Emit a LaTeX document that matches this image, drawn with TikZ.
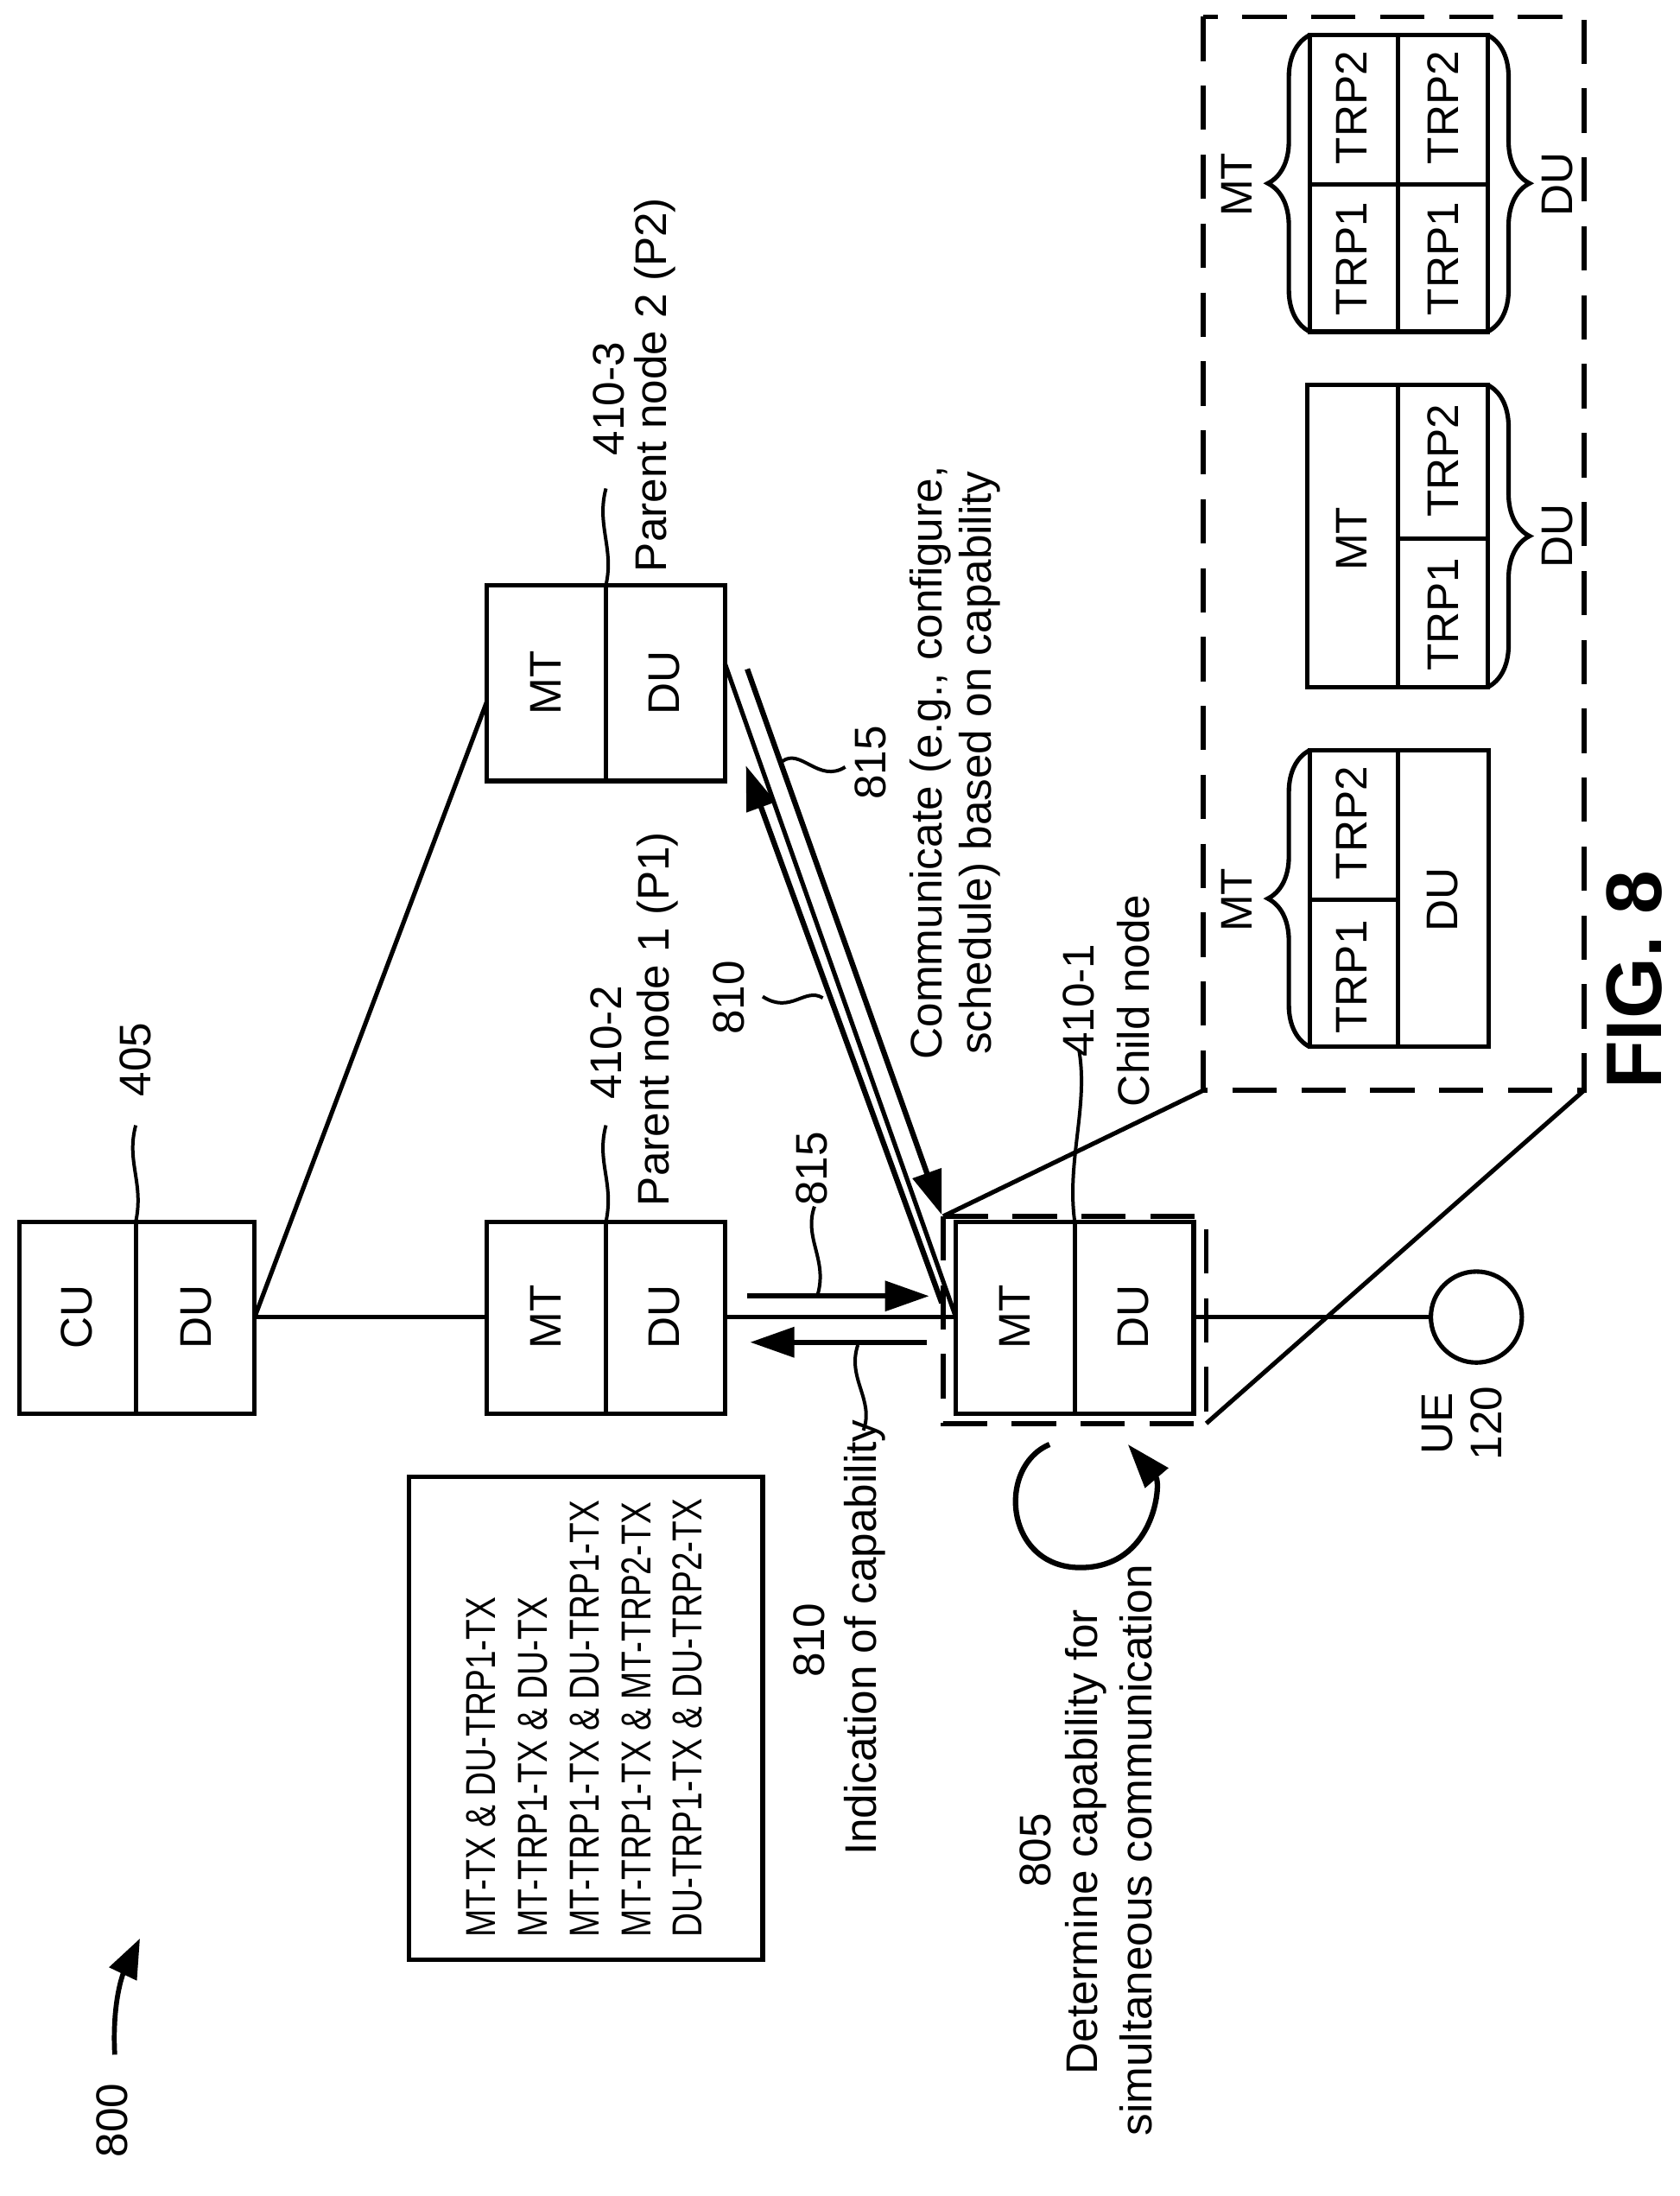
\documentclass[tikz,border=0pt]{standalone}
\usepackage{fontspec}
\setmainfont{Liberation Sans}
\usetikzlibrary{arrows.meta,decorations.pathreplacing}
\begin{document}
\begin{tikzpicture}[x=0.01cm,y=-0.01cm,
  every node/.style={font=\fontsize{9}{11}\selectfont},
  t/.style={rotate=90,inner sep=0pt},
  lst/.style={rotate=90,yscale=1.25,inner sep=0pt,anchor=west,font=\fontsize{6.8}{8}\selectfont},
  ln/.style={line width=0.9pt},
  dsh/.style={line width=1pt,dash pattern=on 9pt off 5pt},
  sq/.style={line width=0.7pt},
  arr/.style={line width=1.1pt,-{Triangle[length=9pt,width=6pt]}},
  br/.style={line width=0.9pt,decorate,decoration={brace,amplitude=0.3cm}}]
\useasboundingbox (0,0) rectangle (1200,1569);
% CU/DU
\draw[ln] (14,873) rectangle (182,1010); \draw[ln] (97,873)--(97,1010);
\node[t] (cu) at (55,941) {CU}; \node[t] (cdu) at (140,941) {DU};
\coordinate (cuR) at (182,941);
\node[t] (l405) at (97,757) {405};
\draw[sq] (97,873) .. controls (103,845) and (90,830) .. (97,804);
% P1
\draw[ln] (348,873) rectangle (518,1010); \draw[ln] (433,873)--(433,1010);
\node[t] (p1mt) at (390,941) {MT}; \node[t] (p1du) at (475,941) {DU};
\coordinate (p1L) at (348,941); \coordinate (p1R) at (518,941);
\node[t] (l4102) at (433,745) {410-2};
\node[t] (p1lab) at (470,728) {Parent node 1 (P1)};
\draw[sq] (433,873) .. controls (439,845) and (426,830) .. (433,804);
% P2
\draw[ln] (348,418) rectangle (518,558); \draw[ln] (433,418)--(433,558);
\node[t] (p2mt) at (390,488) {MT}; \node[t] (p2du) at (475,488) {DU};
\node[t] (l4103) at (435,285) {410-3};
\node[t] (p2lab) at (468,275) {Parent node 2 (P2)};
\draw[sq] (433,418) .. controls (439,392) and (426,375) .. (433,349);
\coordinate (p2L) at (348,501); \coordinate (p2R) at (518,474);
% child
\draw[ln] (683,873) rectangle (853,1010); \draw[ln] (768,873)--(768,1010);
\draw[dsh] (674,869) rectangle (862,1017);
\node[t] (cmt) at (725,941) {MT}; \node[t] (cdu2) at (810,941) {DU};
\coordinate (chL) at (683,941);
\node[t] (l4101) at (771,715) {410-1};
\node[t] (chlab) at (810,715) {Child node};
\draw[sq] (768,873) .. controls (762,830) and (778,790) .. (771,750);
% connections
\draw[ln] (cuR)--(p1L);
\draw[ln] (cuR)--(p2L);
\draw[ln] (p1R)--(chL);
\draw[ln] (p2R)--(chL);
\draw[ln] (853,941)--(1023,941);
\node[draw,circle,ln,inner sep=0pt,minimum size=0.65cm] (ue) at (1055,941) {};
\node[t] (uelab) at (1027,1017) {UE};
\node[t] (ue120) at (1062,1017) {120};
% arrows P1-child
\draw[arr] (534,926)--(664,926);
\draw[arr] (662,959)--(536,959);
\node[t] (l815a) at (580,835) {815};
\draw[sq] (584,926) .. controls (592,900) and (574,885) .. (582,862);
\node[t] (l810a) at (578,1172) {810};
\node[t] (indic) at (618,1170) {Indication of capability};
\draw[sq] (613,961) .. controls (605,985) and (625,1000) .. (617,1022);
% arrows P2-child
\draw[arr] (673,931)--(533,547);
\draw[arr] (534,478)--(673,868);
\node[t] (l810b) at (521,713) {810};
\draw[sq] (588,713) .. controls (575,705) and (565,725) .. (545,712);
\node[t] (l815b) at (622,545) {815};
\draw[sq] (559,544) .. controls (572,534) and (585,560) .. (604,548);
\node[t] (comm1) at (665,545) {Communicate (e.g., configure,};
\node[t] (comm2) at (700,545) {schedule) based on capability};
% self loop
\draw[line width=1.1pt,-{Triangle[length=9pt,width=6pt]}] (750,1032) .. controls (712,1048) and (718,1120) .. (772,1120) .. controls (825,1120) and (830,1060) .. (806,1032);
\node[t] (l805) at (740,1322) {805};
\node[t] (det1) at (776,1316) {Determine capability for};
\node[t] (det2) at (812,1322) {simultaneous communication};
% capability list
\draw[ln] (292,1055) rectangle (545,1400);
\node[lst] (c1) at (344,1385) {MT-TX \& DU-TRP1-TX};
\node[lst] (c2) at (381,1385) {MT-TRP1-TX \& DU-TX};
\node[lst] (c3) at (418,1385) {MT-TRP1-TX \& DU-TRP1-TX};
\node[lst] (c4) at (455,1385) {MT-TRP1-TX \& MT-TRP2-TX};
\node[lst] (c5) at (491,1385) {DU-TRP1-TX \& DU-TRP2-TX};
% 800
\node[t] (l800) at (80,1515) {800};
\draw[line width=1pt,-{Triangle[length=8pt,width=6pt]}] (82,1468) .. controls (80,1430) and (88,1410) .. (100,1385);
% big dashed
\draw[dsh] (860,12) rectangle (1132,779);
\draw[ln] (674,869)--(860,779);
\draw[ln] (862,1017)--(1132,779);
% config 1
\draw[ln] (936,536) rectangle (1064,748);
\draw[ln] (999,536)--(999,748); \draw[ln] (936,643)--(999,643);
\node[t] (a1) at (966,698) {TRP1}; \node[t] (a2) at (966,588) {TRP2};
\node[t] (a3) at (1031,643) {DU};
\draw[br] (936,748)--(936,536); \node[t] (amt) at (884,643) {MT};
% config 2
\draw[ln] (934,275) rectangle (1063,491);
\draw[ln] (999,275)--(999,491); \draw[ln] (999,385)--(1063,385);
\node[t] (b1) at (966,385) {MT};
\node[t] (b2) at (1031,439) {TRP1}; \node[t] (b3) at (1031,329) {TRP2};
\draw[br] (1063,275)--(1063,491); \node[t] (bdu) at (1113,383) {DU};
% config 3
\draw[ln] (936,25) rectangle (1063,237);
\draw[ln] (999,25)--(999,237); \draw[ln] (936,132)--(1063,132);
\node[t] (d1) at (966,185) {TRP1}; \node[t] (d2) at (966,77) {TRP2};
\node[t] (d3) at (1031,185) {TRP1}; \node[t] (d4) at (1031,77) {TRP2};
\draw[br] (936,237)--(936,25); \node[t] (dmt) at (884,132) {MT};
\draw[br] (1063,25)--(1063,237); \node[t] (ddu) at (1113,132) {DU};
% fig
\node[t,font=\bfseries\fontsize{16}{18}\selectfont] (fig) at (1168,700) {FIG. 8};
\end{tikzpicture}
\end{document}
